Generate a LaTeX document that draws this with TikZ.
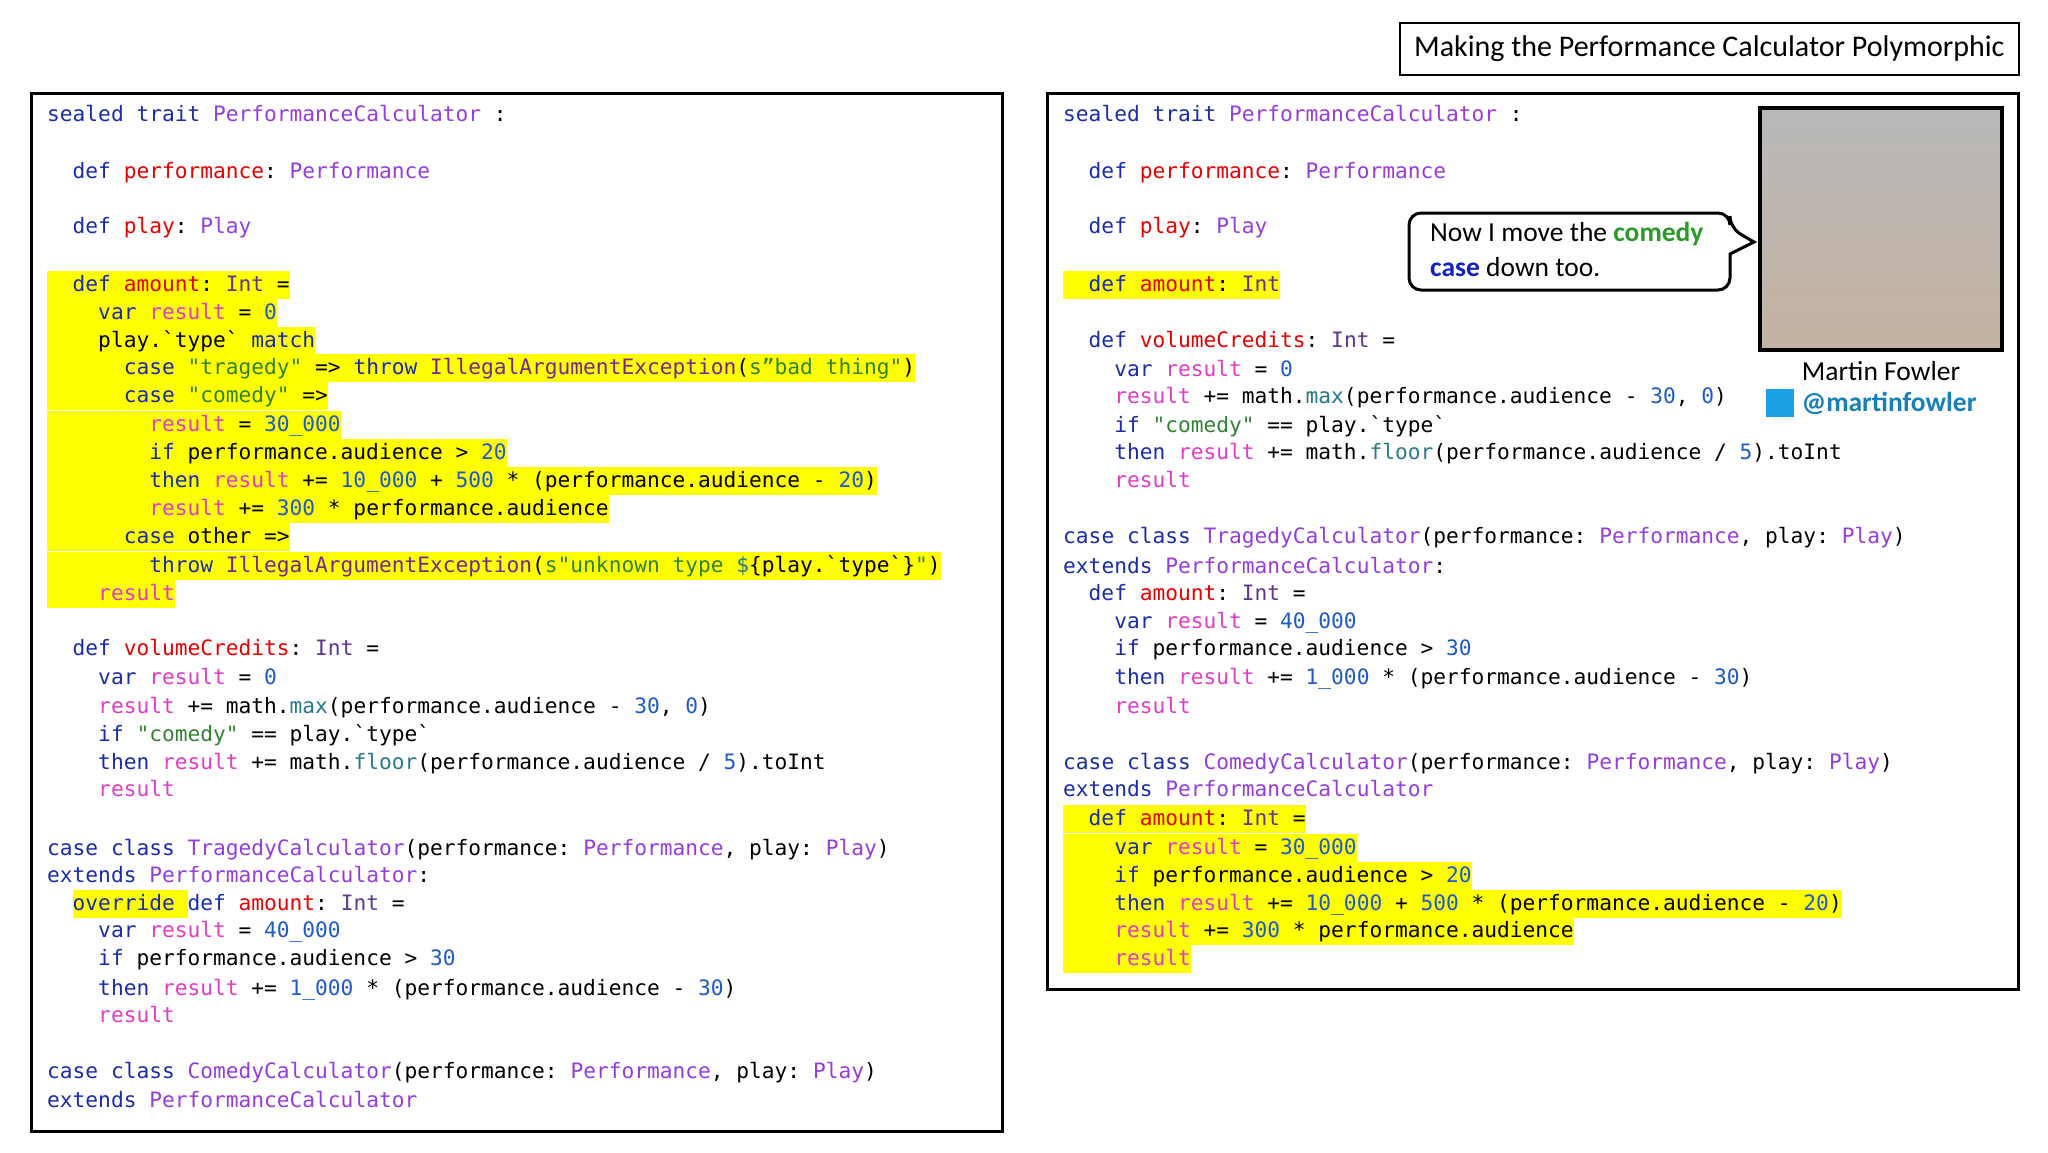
\documentclass[tikz,border=0pt]{standalone}
\usepackage{fontspec}
\setmonofont{DejaVu Sans Mono}
\newfontfamily\ui{Carlito}
\definecolor{ckw}{RGB}{25,45,170}
\definecolor{cnm}{RGB}{230,0,0}
\definecolor{cty}{RGB}{150,60,220}
\definecolor{ctyd}{RGB}{95,55,140}
\definecolor{crs}{RGB}{225,60,200}
\definecolor{cnu}{RGB}{30,90,200}
\definecolor{cst}{RGB}{50,130,50}
\definecolor{cex}{RGB}{120,40,140}
\definecolor{cfn}{RGB}{40,120,140}
\definecolor{hly}{RGB}{255,255,0}
\definecolor{tw}{RGB}{30,160,230}
\newcommand\kw[1]{\textcolor{ckw}{#1}}
\newcommand\nm[1]{\textcolor{cnm}{#1}}
\newcommand\ty[1]{\textcolor{cty}{#1}}
\newcommand\tyd[1]{\textcolor{ctyd}{#1}}
\newcommand\rs[1]{\textcolor{crs}{#1}}
\newcommand\cnum[1]{\textcolor{cnu}{#1}}
\newcommand\st[1]{\textcolor{cst}{#1}}
\newcommand\ex[1]{\textcolor{cex}{#1}}
\newcommand\fnc[1]{\textcolor{cfn}{#1}}
\newcommand\ind[1]{\hspace*{#1\dimexpr 12.76pt\relax}}
\begin{document}
\begin{tikzpicture}[x=1pt,y=-1pt,
  cl/.style={anchor=west,inner sep=0pt,font=\ttfamily\fontsize{21.2}{25}\selectfont,text height=20pt,text depth=8pt},
  hl/.style={cl,fill=hly},
  panel/.style={draw,line width=3pt},
  ui/.style={font=\ui\fontsize{27.5}{35}\selectfont}]
\useasboundingbox (0,0) rectangle (2048,1152);
% title
\node[draw,line width=1.5pt,minimum width=619pt,minimum height=52pt,inner sep=0pt,font=\ui\fontsize{30}{34}\selectfont,anchor=north west] (title) at (1399,22) {Making the Performance Calculator Polymorphic};
% panels
\draw[panel] (31,93) rectangle (1002,1131);
\draw[panel] (1047,93) rectangle (2018,989);
% left code
\def\X{47}
\node[cl] (l1) at (\X,115) {\kw{sealed trait} \ty{PerformanceCalculator} :};
\node[cl] (l2) at (\X,172) {\ind{2}\kw{def} \nm{performance}: \ty{Performance}};
\node[cl] (l3) at (\X,227) {\ind{2}\kw{def} \nm{play}: \ty{Play}};
\node[hl] (l4) at (\X,285) {\ind{2}\kw{def} \nm{amount}: \tyd{Int} =};
\node[hl] (l5) at (\X,313) {\ind{4}\kw{var} \rs{result} = \cnum{0}};
\node[hl] (l6) at (\X,341) {\ind{4}play.`type` \kw{match}};
\node[hl] (l7) at (\X,368) {\ind{6}\kw{case} \st{"tragedy"} => \kw{throw} \ex{IllegalArgumentException}(\st{s”bad thing"})};
\node[hl] (l8) at (\X,396) {\ind{6}\kw{case} \st{"comedy"} =>};
\node[hl] (l9) at (\X,425) {\ind{8}\rs{result} = \cnum{30\_000}};
\node[hl] (l10) at (\X,453) {\ind{8}\kw{if} performance.audience > \cnum{20}};
\node[hl] (l11) at (\X,481) {\ind{8}\kw{then} \rs{result} += \cnum{10\_000} + \cnum{500} * (performance.audience - \cnum{20})};
\node[hl] (l12) at (\X,509) {\ind{8}\rs{result} += \cnum{300} * performance.audience};
\node[hl] (l13) at (\X,537) {\ind{6}\kw{case} other =>};
\node[hl] (l14) at (\X,566) {\ind{8}\kw{throw} \ex{IllegalArgumentException}(\st{s"unknown type }\fnc{\$}\{play.`type`\}\st{"})};
\node[hl] (l15) at (\X,594) {\ind{4}\rs{result}};
\node[cl] (l16) at (\X,649) {\ind{2}\kw{def} \nm{volumeCredits}: \tyd{Int} =};
\node[cl] (l17) at (\X,678) {\ind{4}\kw{var} \rs{result} = \cnum{0}};
\node[cl] (l18) at (\X,707) {\ind{4}\rs{result} += math.\fnc{max}(performance.audience - \cnum{30}, \cnum{0})};
\node[cl] (l19) at (\X,735) {\ind{4}\kw{if} \st{"comedy"} == play.`type`};
\node[cl] (l20) at (\X,763) {\ind{4}\kw{then} \rs{result} += math.\fnc{floor}(performance.audience / \cnum{5}).toInt};
\node[cl] (l21) at (\X,790) {\ind{4}\rs{result}};
\node[cl] (l22) at (\X,849) {\kw{case class} \ty{TragedyCalculator}(performance: \ty{Performance}, play: \ty{Play})};
\node[cl] (l23) at (\X,876) {\kw{extends} \ty{PerformanceCalculator}:};
\node[cl] (l24) at (\X,904) {\ind{2}{\setlength\fboxsep{0pt}\colorbox{hly}{\rule[-8pt]{0pt}{28pt}\kw{override}\ }}\kw{def} \nm{amount}: \tyd{Int} =};
\node[cl] (l25) at (\X,931) {\ind{4}\kw{var} \rs{result} = \cnum{40\_000}};
\node[cl] (l26) at (\X,959) {\ind{4}\kw{if} performance.audience > \cnum{30}};
\node[cl] (l27) at (\X,989) {\ind{4}\kw{then} \rs{result} += \cnum{1\_000} * (performance.audience - \cnum{30})};
\node[cl] (l28) at (\X,1016) {\ind{4}\rs{result}};
\node[cl] (l29) at (\X,1072) {\kw{case class} \ty{ComedyCalculator}(performance: \ty{Performance}, play: \ty{Play})};
\node[cl] (l30) at (\X,1101) {\kw{extends} \ty{PerformanceCalculator}};
% right code
\def\X{1063}
\node[cl] (r1) at (\X,115) {\kw{sealed trait} \ty{PerformanceCalculator} :};
\node[cl] (r2) at (\X,172) {\ind{2}\kw{def} \nm{performance}: \ty{Performance}};
\node[cl] (r3) at (\X,227) {\ind{2}\kw{def} \nm{play}: \ty{Play}};
\node[hl] (r4) at (\X,285) {\ind{2}\kw{def} \nm{amount}: \tyd{Int}};
\node[cl] (r5) at (\X,341) {\ind{2}\kw{def} \nm{volumeCredits}: \tyd{Int} =};
\node[cl] (r6) at (\X,370) {\ind{4}\kw{var} \rs{result} = \cnum{0}};
\node[cl] (r7) at (\X,397) {\ind{4}\rs{result} += math.\fnc{max}(performance.audience - \cnum{30}, \cnum{0})};
\node[cl] (r8) at (\X,426) {\ind{4}\kw{if} \st{"comedy"} == play.`type`};
\node[cl] (r9) at (\X,453) {\ind{4}\kw{then} \rs{result} += math.\fnc{floor}(performance.audience / \cnum{5}).toInt};
\node[cl] (r10) at (\X,481) {\ind{4}\rs{result}};
\node[cl] (r11) at (\X,537) {\kw{case class} \ty{TragedyCalculator}(performance: \ty{Performance}, play: \ty{Play})};
\node[cl] (r12) at (\X,567) {\kw{extends} \ty{PerformanceCalculator}:};
\node[cl] (r13) at (\X,594) {\ind{2}\kw{def} \nm{amount}: \tyd{Int} =};
\node[cl] (r14) at (\X,622) {\ind{4}\kw{var} \rs{result} = \cnum{40\_000}};
\node[cl] (r15) at (\X,649) {\ind{4}\kw{if} performance.audience > \cnum{30}};
\node[cl] (r16) at (\X,678) {\ind{4}\kw{then} \rs{result} += \cnum{1\_000} * (performance.audience - \cnum{30})};
\node[cl] (r17) at (\X,707) {\ind{4}\rs{result}};
\node[cl] (r18) at (\X,763) {\kw{case class} \ty{ComedyCalculator}(performance: \ty{Performance}, play: \ty{Play})};
\node[cl] (r19) at (\X,790) {\kw{extends} \ty{PerformanceCalculator}};
\node[hl] (r20) at (\X,819) {\ind{2}\kw{def} \nm{amount}: \tyd{Int} =};
\node[hl] (r21) at (\X,848) {\ind{4}\kw{var} \rs{result} = \cnum{30\_000}};
\node[hl] (r22) at (\X,876) {\ind{4}\kw{if} performance.audience > \cnum{20}};
\node[hl] (r23) at (\X,904) {\ind{4}\kw{then} \rs{result} += \cnum{10\_000} + \cnum{500} * (performance.audience - \cnum{20})};
\node[hl] (r24) at (\X,931) {\ind{4}\rs{result} += \cnum{300} * performance.audience};
\node[hl] (r25) at (\X,959) {\ind{4}\rs{result}};
% photo
\shade[top color=gray!55,bottom color=brown!45!gray!60] (1760,108) rectangle (2002,350);
\draw[line width=4pt] (1760,108) rectangle (2002,350);
\node[ui,anchor=center] (name) at (1881,371) {Martin Fowler};
\node[fill=tw,minimum size=28pt,inner sep=0pt] (tw) at (1780,403) {};
\node[ui,anchor=west,text=tw!80!black,font=\ui\bfseries\fontsize{27.5}{32}\selectfont] (handle) at (1798,403) {@martinfowler};
% bubble
\draw[line width=3pt,fill=white,rounded corners=12pt] (1409,213) -- (1730,213) -- (1730,228) [sharp corners]-- (1754,242) -- (1730,254) [rounded corners=12pt]-- (1730,290) -- (1409,290) -- cycle;
\node[ui,anchor=north west,align=left,inner sep=0pt] (bub) at (1430,222) {Now I move the \textcolor{cst!80!green}{\bfseries comedy}\\\textcolor{ckw!70!blue}{\bfseries case} down too.};
\end{tikzpicture}
\end{document}
